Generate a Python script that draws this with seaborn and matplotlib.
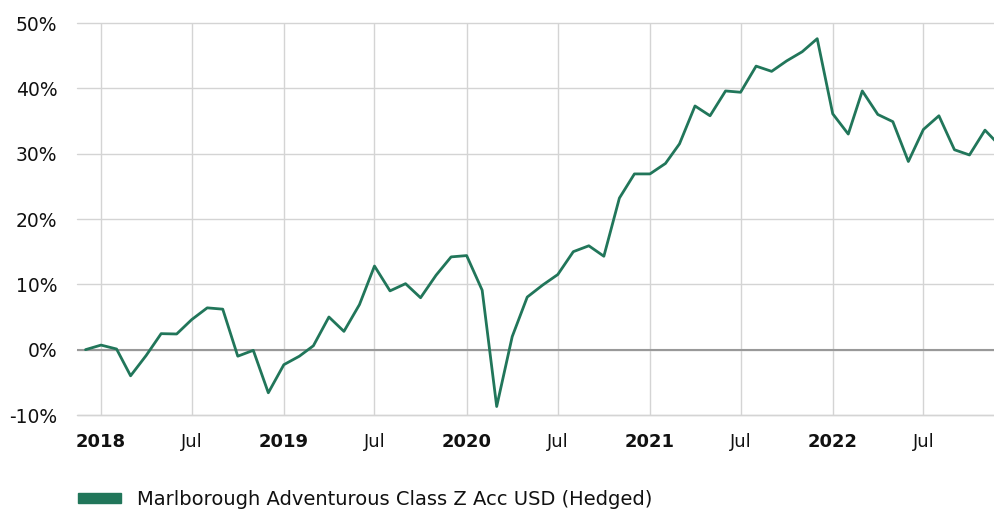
import matplotlib
matplotlib.use("Agg")
import matplotlib.pyplot as plt
from matplotlib.patches import Patch
import seaborn as sns
import pandas as pd

series_name = "Marlborough Adventurous Class Z Acc USD (Hedged)"
start_month = "2017-12-01"
values = [
    0.0, 0.7, 0.1, -4.0, -0.9, 2.45, 2.4, 4.6, 6.4, 6.2, -1.0, -0.1,
    -6.6, -2.3, -1.0, 0.6, 5.0, 2.8, 6.9, 12.8, 9.0, 10.1, 7.95, 11.4,
    14.2, 14.4, 9.1, -8.7, 2.0, 8.05, 9.9, 11.5, 15.0, 15.9, 14.3, 23.2,
    26.9, 26.9, 28.5, 31.5, 37.3, 35.8, 39.6, 39.4, 43.4, 42.6, 44.2, 45.6,
    47.6, 36.1, 33.0, 39.6, 36.0, 34.9, 28.8, 33.7, 35.8, 30.6, 29.8, 33.6,
    31.2,
]
dates = pd.date_range(start_month, periods=len(values), freq="MS")
df = pd.DataFrame({"date": dates, "value": values})

year_ticks = ["2018-01-01", "2019-01-01", "2020-01-01", "2021-01-01", "2022-01-01"]
jul_ticks = ["2018-07-01", "2019-07-01", "2020-07-01", "2021-07-01", "2022-07-01"]
y_ticks = [-10, 0, 10, 20, 30, 40, 50]

color = "#21765a"

sns.set_theme(style="white")
plt.rcParams["font.family"] = ["DejaVu Sans"]

W, H = 995, 511
fig = plt.figure(figsize=(W / 100, H / 100), dpi=100)
ax = fig.add_axes([77 / W, (H - 415) / H, (995 - 77) / W, (415 - 23) / H])

sns.lineplot(data=df, x="date", y="value", ax=ax, color=color, linewidth=2.0, legend=False)

ax.set_ylim(-10, 50)
ax.set_xlim(pd.Timestamp("2017-11-14"), pd.Timestamp("2022-11-21"))

ax.set_yticks(y_ticks)
ax.set_yticklabels([f"{v}%" for v in y_ticks], fontsize=13.5, color="#111111")

all_ticks = sorted([pd.Timestamp(t) for t in year_ticks + jul_ticks])
ax.set_xticks(all_ticks)
labels = [str(t.year) if t.month == 1 else "Jul" for t in all_ticks]
ax.set_xticklabels(labels, fontsize=13, color="#111111")
for lbl, t in zip(ax.get_xticklabels(), all_ticks):
    if t.month == 1:
        lbl.set_fontweight("bold")

ax.grid(True, color="#d4d4d4", linewidth=1.0)
ax.set_axisbelow(True)
for gl in ax.get_ygridlines():
    gl.set_clip_on(False)
ax.axhline(-10, color="#d4d4d4", linewidth=1.0, zorder=0.5, clip_on=False)
ax.axhline(0, color="#999999", linewidth=1.5, zorder=1)
for s in ax.spines.values():
    s.set_visible(False)
ax.tick_params(axis="x", length=5, color="#d4d4d4", width=1.0, pad=8, direction="out")
ax.tick_params(axis="y", length=0, pad=14)
ax.set_xlabel("")
ax.set_ylabel("")

handle = Patch(facecolor=color, edgecolor=color)
fig.legend([handle], [series_name], loc="center left", bbox_to_anchor=(78 / W, (H - 499) / H),
           frameon=False, fontsize=14, handlelength=2.2, handleheight=0.42,
           handletextpad=0.85, borderpad=0, borderaxespad=0, labelcolor="#111111")

fig.savefig("out.png", dpi=100)
